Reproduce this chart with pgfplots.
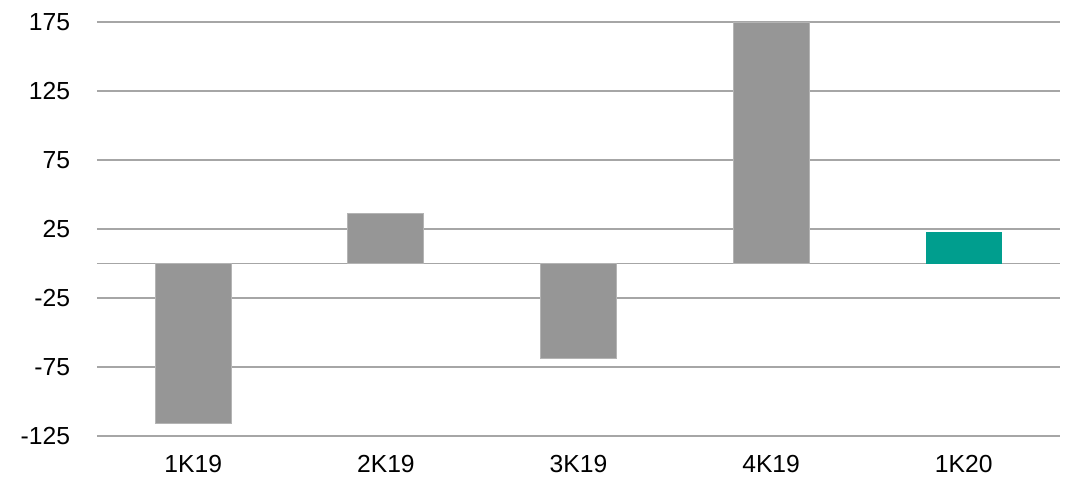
\documentclass[border=0pt]{standalone}
\usepackage{fontspec}
\setmainfont{Liberation Sans}
\usepackage{pgfplots}
\pgfplotsset{compat=1.18}
\definecolor{bargray}{HTML}{969696}
\definecolor{baredge}{HTML}{B4B4B4}
\definecolor{teal1}{HTML}{009E8E}
\definecolor{gridgray}{HTML}{A6A6A6}
\begin{document}
\begin{tikzpicture}
\begin{axis}[
  at={(0,0)}, anchor=south west,
  scale only axis,
  width=722.25pt, height=310.5pt,
  xmin=-0.5, xmax=4.5,
  ymin=-125, ymax=175,
  ybar, bar width=57pt, bar shift=0pt,
  axis line style={draw=none},
  tick style={draw=none},
  xtick={0,1,2,3,4},
  xticklabels={1K19,2K19,3K19,4K19,1K20},
  ytick={-125,-75,-25,25,75,125,175},
  yticklabels={-125,-75,-25,25,75,125,175},
  extra y ticks={0},
  extra y tick labels={},
  extra y tick style={grid=major},
  ymajorgrids,
  grid style={gridgray, line width=1pt},
  tick label style={font=\fontsize{18.5}{20}\selectfont, inner sep=0pt},
  yticklabel style={anchor=east, xshift=-20pt},
  xticklabel style={anchor=north, yshift=-10pt},
]
\addplot[fill=bargray, draw=baredge, line width=0.75pt]
  coordinates {(0,-116) (1,36) (2,-69) (3,175)};
\addplot[fill=teal1, draw=none]
  coordinates {(4,23)};
\end{axis}
\pgfresetboundingbox
\path (-72.75pt,-32.25pt) rectangle (729pt,327pt);
\end{tikzpicture}
\end{document}
